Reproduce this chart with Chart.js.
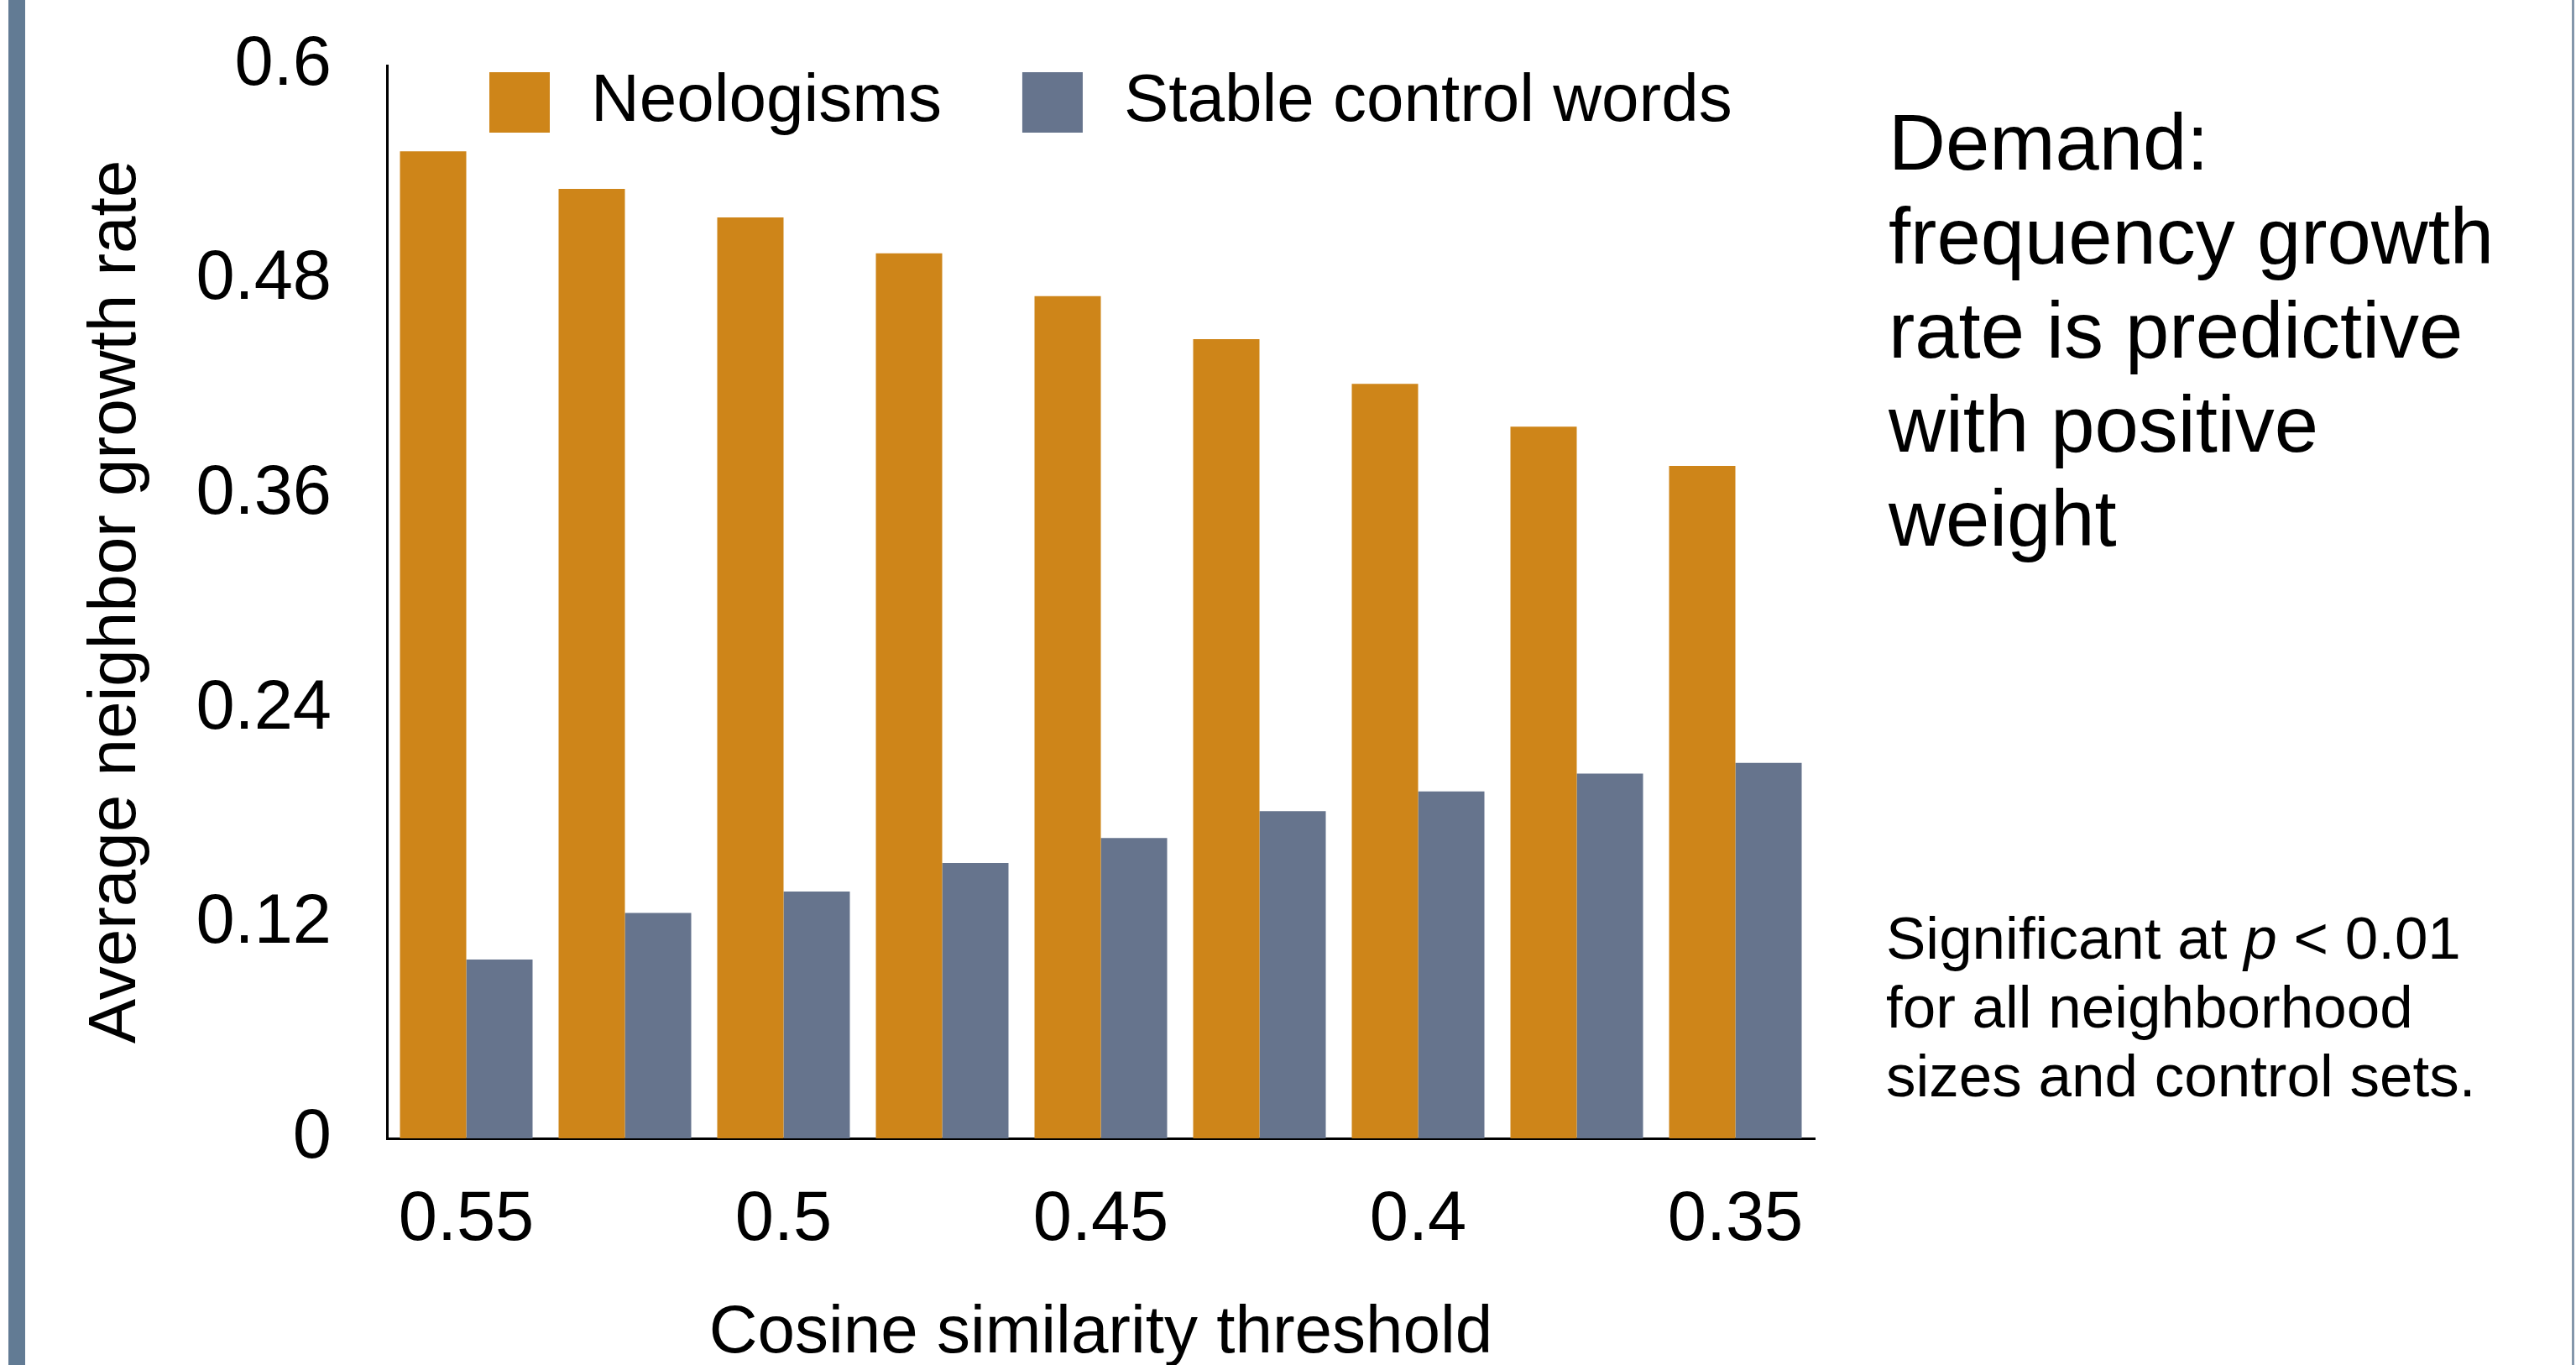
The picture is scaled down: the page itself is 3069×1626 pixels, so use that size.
<!DOCTYPE html>
<html>
<head>
<meta charset="utf-8">
<script src="https://cdn.jsdelivr.net/npm/chart.js@4.4.0/dist/chart.umd.min.js"></script>
<style>
  html, body { margin: 0; padding: 0; background: #fff; }
  #wrap { position: relative; width: 3069px; height: 1626px; overflow: hidden; font-family: 'Liberation Sans', Arial, sans-serif; }
  #edge { position: absolute; left: 10px; top: 0; width: 20px; height: 1626px; background: #627b94; }
  #edgeRight { position: absolute; left: 3064px; top: 0; width: 3px; height: 1626px; background: #8497ab; }
  .note { position: absolute; color: #000; white-space: nowrap; }
  #claim { left: 2250px; top: 114px; font-size: 94px; line-height: 112px; }
  #sig { left: 2247px; top: 1077px; font-size: 71px; line-height: 82px; }
</style>
</head>
<body>
<div id="wrap">
  <canvas id="chart" width="3069" height="1626"></canvas>
  <div id="edge"></div>
  <div id="edgeRight"></div>
  <div class="note" id="claim">Demand:<br>frequency growth<br>rate is predictive<br>with positive<br>weight</div>
  <div class="note" id="sig">Significant at <i>p</i> &lt; 0.01<br>for all neighborhood<br>sizes and control sets.</div>
</div>
<script>
const thresholds = ['0.55', '0.525', '0.5', '0.475', '0.45', '0.425', '0.4', '0.375', '0.35']
const shownThresholds = ['0.55', '0.5', '0.45', '0.4', '0.35']
const neologisms = [0.552, 0.531, 0.515, 0.495, 0.471, 0.447, 0.422, 0.398, 0.376]
const stableControls = [0.100, 0.126, 0.138, 0.154, 0.168, 0.183, 0.194, 0.204, 0.210]
const yTicks = [0, 0.12, 0.24, 0.36, 0.48, 0.6]

const fontFamily = "'Liberation Sans', Arial, sans-serif"
Chart.defaults.font.family = fontFamily
Chart.defaults.color = '#000'

// legend sits inside the plot area, so draw it ourselves from the datasets
const insideLegend = {
  id: 'insideLegend',
  afterDraw (chart, args, opts) {
    const { ctx, chartArea } = chart
    let x = chartArea.left + opts.offsetX
    const top = chartArea.top + opts.offsetY
    ctx.save()
    ctx.font = `${opts.fontSize}px ${fontFamily}`
    ctx.textBaseline = 'middle'
    ctx.textAlign = 'left'
    chart.data.datasets.forEach(ds => {
      ctx.fillStyle = ds.backgroundColor
      ctx.fillRect(x, top, opts.boxSize, opts.boxSize)
      x += opts.boxSize + opts.textGap
      ctx.fillStyle = '#000'
      ctx.fillText(ds.label, x, top + opts.boxSize / 2)
      x += ctx.measureText(ds.label).width + opts.itemGap
    })
    ctx.restore()
  }
}

const ctx = document.getElementById('chart').getContext('2d')
new Chart(ctx, {
  type: 'bar',
  data: {
    labels: thresholds,
    datasets: [
      { label: 'Neologisms', data: neologisms, backgroundColor: '#ce8519' },
      { label: 'Stable control words', data: stableControls, backgroundColor: '#66748d' }
    ]
  },
  options: {
    responsive: false,
    animation: false,
    layout: { padding: { left: 0, top: 78, right: 907, bottom: 0 } },
    datasets: { bar: { barPercentage: 1, categoryPercentage: 0.836 } },
    plugins: {
      legend: { display: false },
      tooltip: { enabled: false },
      insideLegend: { offsetX: 122, offsetY: 8, boxSize: 72, textGap: 49, itemGap: 96, fontSize: 80 }
    },
    scales: {
      x: {
        grid: { display: false, drawTicks: false },
        border: { display: true, color: '#000', width: 3 },
        ticks: {
          autoSkip: false,
          maxRotation: 0,
          minRotation: 0,
          padding: 48,
          font: { size: 83 },
          callback: (v, i) => shownThresholds.includes(thresholds[i]) ? thresholds[i] : ''
        },
        title: {
          display: true,
          text: 'Cosine similarity threshold',
          font: { size: 80, lineHeight: 0.9 },
          padding: { top: 0, bottom: 1 }
        },
        afterFit: s => {
          s.height = 270
          s.paddingLeft = 0
          s.paddingRight = 0
        }
      },
      y: {
        min: 0,
        max: 0.6,
        grid: { display: false, drawTicks: false },
        border: { display: true, color: '#000', width: 3 },
        afterBuildTicks: s => { s.ticks = yTicks.map(v => ({ value: v })) },
        ticks: {
          padding: 66,
          font: { size: 83 },
          callback: v => String(v)
        },
        title: {
          display: true,
          text: 'Average neighbor growth rate',
          font: { size: 80 },
          padding: { top: 91, bottom: 0 }
        },
        afterFit: s => {
          s.width = 461
          s.paddingTop = 0
          s.paddingBottom = 0
        }
      }
    }
  },
  plugins: [insideLegend]
})
</script>
</body>
</html>
